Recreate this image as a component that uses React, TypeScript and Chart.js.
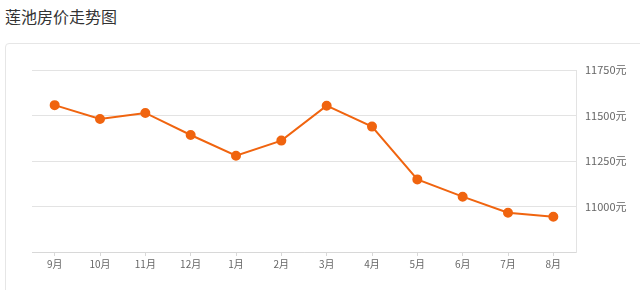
import React, { useEffect, useRef } from "react";
import { Chart, registerables } from "chart.js";

Chart.register(...registerables);

const months = ["9月", "10月", "11月", "12月", "1月", "2月", "3月", "4月", "5月", "6月", "7月", "8月"];
const prices = [11557, 11481, 11514, 11393, 11279, 11362, 11554, 11439, 11149, 11054, 10966, 10944];
const yMin = 10750;
const yMax = 11750;
const yStep = 250;
const title = "莲池房价走势图";
const unit = "元";

export default function App() {
  const ref = useRef<HTMLCanvasElement | null>(null);

  useEffect(() => {
    if (!ref.current) return;
    const chart = new Chart(ref.current, {
      type: "line",
      data: {
        labels: months,
        datasets: [
          {
            data: prices,
            borderColor: "#f0640f",
            backgroundColor: "#f0640f",
            pointBackgroundColor: "#f0640f",
            pointBorderColor: "#f0640f",
            borderWidth: 2,
            pointRadius: 4,
            tension: 0,
            fill: false,
          },
        ],
      },
      options: {
        animation: false,
        responsive: false,
        maintainAspectRatio: false,
        layout: { padding: { left: 32, top: 70 - 45, right: 0, bottom: 0 } },
        plugins: { legend: { display: false }, tooltip: { enabled: false } },
        scales: {
          x: {
            offset: true,
            grid: {
              offset: false,
              drawOnChartArea: false,
              drawTicks: true,
              tickLength: 4,
              color: "#d8d8d8",
            },
            border: { color: "#d8d8d8", width: 1 },
            ticks: {
              color: "#666",
              font: { family: "'Noto Sans CJK SC'", size: 10 },
              padding: 2,
              maxRotation: 0,
            },
            afterFit: (s: any) => {
              s.height = 290 - 45 - 252 + 45;
            },
          },
          y: {
            position: "right",
            min: yMin,
            max: yMax,
            grid: { color: "#e3e3e3", drawTicks: false },
            border: { color: "#e3e3e3", width: 1 },
            ticks: {
              stepSize: yStep,
              padding: 9,
              color: "#666",
              font: { family: "'Noto Sans CJK SC'", size: 11 },
              callback: (v: any) => (Number(v) === yMin ? "" : v + unit),
            },
            afterFit: (s: any) => {
              s.width = 640 - 576;
            },
          },
        },
      },
    });
    return () => chart.destroy();
  }, []);

  return (
    <div style={{ position: "fixed", left: 0, top: 0, width: 640, height: 290, background: "#fff", overflow: "hidden" }}>
      <div
        style={{
          position: "absolute",
          left: 5,
          top: 5,
          fontFamily: "'Noto Sans CJK SC', sans-serif",
          fontSize: 16,
          lineHeight: "22px",
          color: "#333",
        }}
      >
        {title}
      </div>
      <div
        style={{
          position: "absolute",
          left: 5,
          top: 43,
          width: 660,
          height: 280,
          border: "1px solid #e6e6e6",
          borderRadius: 4,
          boxSizing: "border-box",
        }}
      />
      <canvas
        ref={ref}
        width={640}
        height={245}
        style={{ position: "absolute", left: 0, top: 45, width: 640, height: 245 }}
      />
    </div>
  );
}
